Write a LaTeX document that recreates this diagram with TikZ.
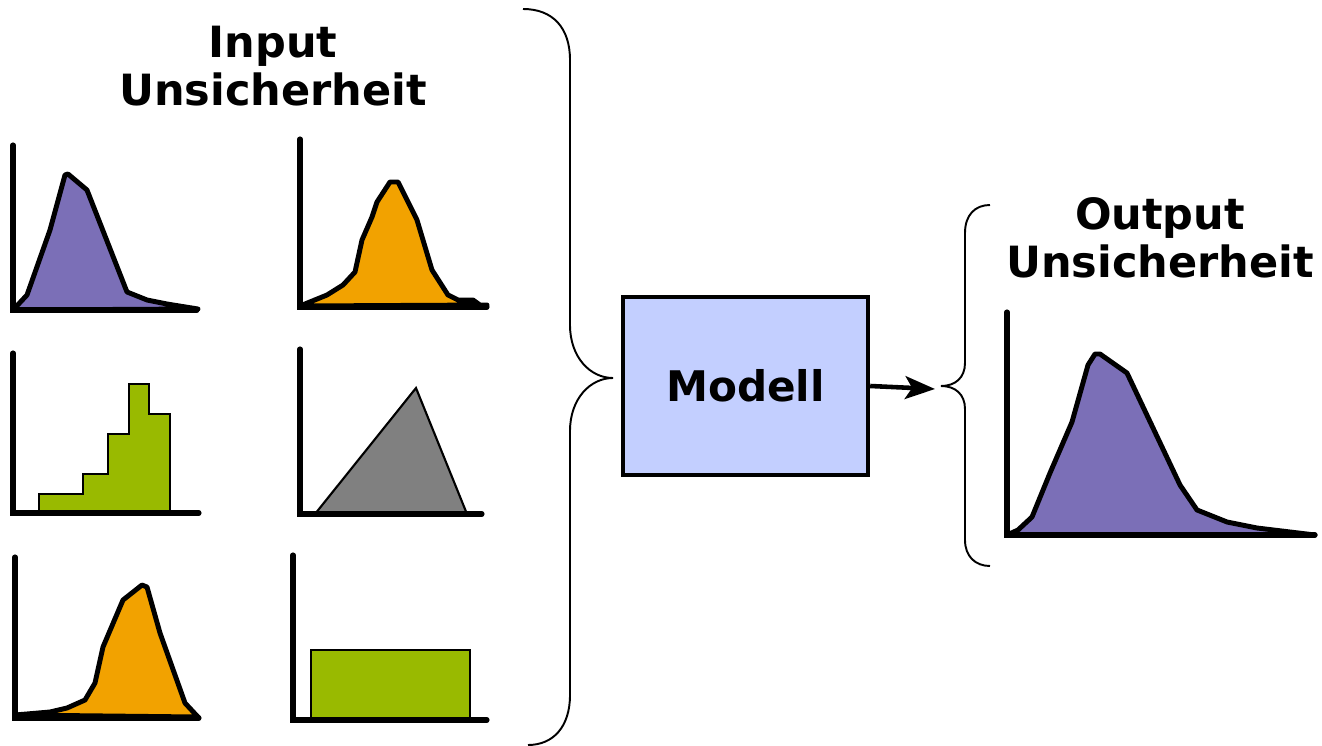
\documentclass[tikz,border=0pt]{standalone}
\usepackage{fontspec}
\setmainfont{DejaVu Sans}
\usepackage{xcolor}
\usepackage{tikz}
\usetikzlibrary{arrows.meta,calc}

\definecolor{distpurple}{RGB}{123,111,183}
\definecolor{distorange}{RGB}{242,162,0}
\definecolor{distgreen}{RGB}{153,186,0}
\definecolor{distgrey}{RGB}{128,128,128}
\definecolor{modelblue}{RGB}{195,207,255}

\tikzset{
    axisline/.style={line width=2.9pt, line cap=round, line join=miter},
    curvefill/.style={line width=2.8pt, line join=round},
    thinfill/.style={line width=1.2pt},
    bracepath/.style={line width=1.1pt},
    biglabel/.style={font=\bfseries\fontsize{24.5}{27}\selectfont, align=center}
}

\begin{document}
\begin{tikzpicture}[x=0.02cm, y=-0.02cm]
    \useasboundingbox (0,0) rectangle (1322,746);

    % Titles
    \node[biglabel] (inputlabel) at (273,66) {Input\\Unsicherheit};
    \node[biglabel] (outputlabel) at (1160,238) {Output\\Unsicherheit};

    % Top left - skewed distribution (purple)
    \filldraw[curvefill, fill=distpurple] (13,310) -- (27,295) -- (50,230) -- (65,175) -- (68,174) -- (87,190) -- (127,292) -- (147,300) -- (167,304) -- (198,309) -- cycle;
    \draw[axisline] (13,145) -- (13,310) -- (197,310);

    % Top right - bell shaped (orange)
    \filldraw[curvefill, fill=distorange] (300,306) -- (327,295) -- (343,285) -- (355,272) -- (362,240) -- (372,217) -- (377,202) -- (390,182) -- (398,182) -- (417,220) -- (432,270) -- (448,295) -- (458,300) -- (473,300) -- (480,305) -- (487,305) -- cycle;
    \draw[axisline] (300,139) -- (300,307) -- (487,307);

    % Middle left - histogram (green)
    \filldraw[thinfill, fill=distgreen] (39,513) -- (39,494) -- (83,494) -- (83,474) -- (108,474) -- (108,434) -- (129,434) -- (129,384) -- (149,384) -- (149,414) -- (170,414) -- (170,513) -- cycle;
    \draw[axisline] (13,353) -- (13,513) -- (199,513);

    % Middle right - triangle (grey)
    \filldraw[thinfill, fill=distgrey, line join=miter] (315,514) -- (416,388) -- (467,514) -- cycle;
    \draw[axisline] (300,349) -- (300,514) -- (482,514);

    % Bottom left - left skewed (orange)
    \filldraw[curvefill, fill=distorange] (15,715) -- (50,712) -- (67,708) -- (85,700) -- (95,683) -- (103,647) -- (123,600) -- (142,585) -- (147,587) -- (160,633) -- (185,703) -- (198,717) -- cycle;
    \draw[axisline] (15,557) -- (15,718) -- (199,718);

    % Bottom right - uniform (green)
    \filldraw[thinfill, fill=distgreen] (311,650) rectangle (470,720);
    \draw[axisline] (293,555) -- (293,720) -- (487,720);

    % Big brace collecting the inputs
    \draw[bracepath] (523,9) .. controls (553,9) and (570,28) .. (570,60) -- (570,325)
        .. controls (570,357) and (590,378) .. (613,378)
        .. controls (590,378) and (570,399) .. (570,431) -- (570,695)
        .. controls (570,727) and (553,745) .. (528,745);

    % Model box
    \node[draw, line width=2.5pt, fill=modelblue, minimum width=245*0.02cm, minimum height=178*0.02cm,
          font=\bfseries\fontsize{24}{26}\selectfont] (modell) at (745.5,386) {Modell};

    % Small brace for the output
    \coordinate (outtip) at (935,389);
    \draw[bracepath] (990,205) .. controls (975,205) and (965,215) .. (965,233) -- (965,363)
        .. controls (965,378) and (955,386) .. (941,386)
        .. controls (955,386) and (965,394) .. (965,409) -- (965,540)
        .. controls (965,556) and (975,566) .. (990,566);

    \draw[line width=2.6pt, -{Stealth[length=17pt, width=13pt, inset=4pt]}] (modell.east) -- (outtip);

    % Output distribution (purple)
    \filldraw[curvefill, fill=distpurple] (1007,535) -- (1018,530) -- (1032,517) -- (1050,473) -- (1072,422) -- (1088,365) -- (1095,354) -- (1100,354) -- (1127,373) -- (1180,485) -- (1197,510) -- (1227,522) -- (1257,528) -- (1315,535) -- cycle;
    \draw[axisline] (1007,312) -- (1007,535) -- (1315,535);

\end{tikzpicture}
\end{document}
